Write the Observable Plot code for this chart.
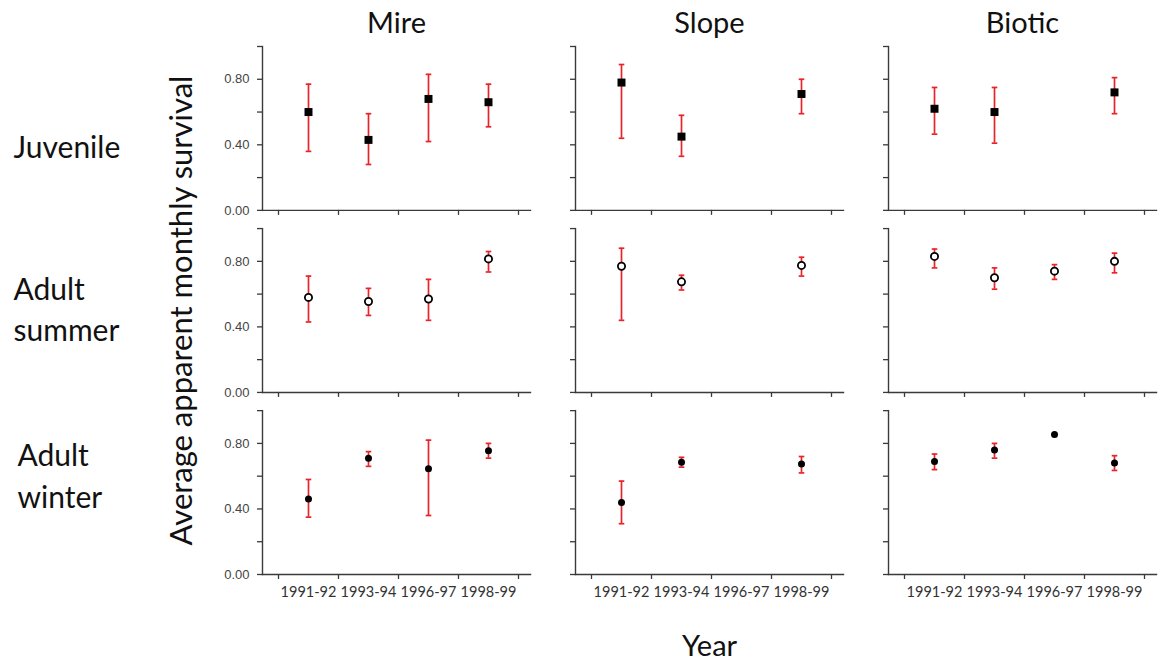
<!DOCTYPE html>
<html>
<head>
<meta charset="utf-8">
<script src="https://cdn.jsdelivr.net/npm/d3@7"></script>
<script src="https://cdn.jsdelivr.net/npm/@observablehq/plot@0.6"></script>
<style>
  body { margin: 0; background: #fff; }
  #chart svg { display: block; }
</style>
</head>
<body>
<div id="chart"></div>
<script>
// Study sites (columns), life stages (rows) and survey years (x axis)
const sites = ["Mire", "Slope", "Biotic"];
const stages = ["Juvenile", "Adult summer", "Adult winter"];
const stageLabels = ["Juvenile", "Adult\nsummer", "Adult\nwinter"];
const years = ["1991-92", "1993-94", "1996-97", "1998-99"];
const yTicks = [0, 0.2, 0.4, 0.6, 0.8, 1.0];
const yLabelTicks = [0, 0.4, 0.8];

// Average apparent monthly survival; rows = stages, columns = years (null = not estimated)
const mireEst  = [[0.60, 0.43, 0.68, 0.66], [0.58, 0.555, 0.57, 0.815], [0.46, 0.71, 0.645, 0.755]];
const mireLow  = [[0.36, 0.28, 0.42, 0.51], [0.43, 0.47, 0.44, 0.735], [0.35, 0.66, 0.36, 0.71]];
const mireHigh = [[0.77, 0.59, 0.83, 0.77], [0.71, 0.635, 0.69, 0.86], [0.58, 0.75, 0.82, 0.80]];

const slopeEst  = [[0.78, 0.45, null, 0.71], [0.77, 0.675, null, 0.775], [0.44, 0.685, null, 0.675]];
const slopeLow  = [[0.44, 0.33, null, 0.59], [0.44, 0.625, null, 0.71], [0.31, 0.655, null, 0.62]];
const slopeHigh = [[0.89, 0.58, null, 0.80], [0.88, 0.715, null, 0.825], [0.57, 0.715, null, 0.72]];

const bioticEst  = [[0.62, 0.60, null, 0.72], [0.83, 0.70, 0.74, 0.80], [0.69, 0.76, 0.855, 0.68]];
const bioticLow  = [[0.465, 0.41, null, 0.59], [0.76, 0.63, 0.69, 0.73], [0.64, 0.71, null, 0.635]];
const bioticHigh = [[0.75, 0.75, null, 0.81], [0.875, 0.76, 0.78, 0.85], [0.735, 0.80, null, 0.725]];

// Flatten into one row per estimate
const series = {
  Mire: [mireEst, mireLow, mireHigh],
  Slope: [slopeEst, slopeLow, slopeHigh],
  Biotic: [bioticEst, bioticLow, bioticHigh]
};
const rows = [];
sites.forEach(site => {
  const [est, low, high] = series[site];
  stages.forEach((stage, r) => {
    years.forEach((year, i) => {
      if (est[r][i] == null) return;
      rows.push({site, stage, year, xi: i, est: est[r][i], low: low[r][i], high: high[r][i]});
    });
  });
});
const bars = rows.filter(d => d.low != null && d.high != null);

const axisColor = "#3a3a3a";
const red = "#e8242b";
const labelFont = "Lato, 'Noto Sans', sans-serif";
const tickFont = "'Liberation Sans', Arial, sans-serif";

// Short horizontal stroke used for the error-bar caps
const capSymbol = {
  draw(context, size) {
    const w = Math.sqrt(size / Math.PI);
    context.moveTo(-w, 0);
    context.lineTo(w, 0);
  }
};

// Offsets of the row labels relative to the middle of each row
const rowLabelShift = {"Juvenile": 16, "Adult summer": -3, "Adult winter": -19};

const marks = [
  // axis lines
  Plot.frame({anchor: "left", stroke: axisColor, strokeWidth: 1.4}),
  Plot.frame({anchor: "bottom", stroke: axisColor, strokeWidth: 1.4}),
  // y ticks in every panel, labels on the left column only
  Plot.axisY({ticks: yTicks, tickFormat: () => "", tickSize: 5, facetAnchor: null, stroke: axisColor, strokeWidth: 1.3, label: null}),
  Plot.axisY({ticks: yLabelTicks, tickFormat: ".2f", tickSize: 0, tickPadding: 13, label: null,
    fontSize: 13, fontFamily: tickFont, fill: "#444"}),
  // x ticks at the year boundaries in every panel, year labels on the bottom row
  Plot.axisX({ticks: [-0.5, 0.5, 1.5, 2.5, 3.5], tickFormat: () => "", tickSize: 5, facetAnchor: null, stroke: axisColor, strokeWidth: 1.3, label: null}),
  Plot.axisX({ticks: [0, 1, 2, 3], tickFormat: i => years[i], tickSize: 0, tickPadding: 12, label: null,
    fontSize: 14.5, fontFamily: labelFont, fill: "#333"}),
  // error bars
  Plot.ruleX(bars, {x: "xi", y1: "low", y2: "high", fx: "site", fy: "stage", stroke: red, strokeWidth: 1.7}),
  Plot.dot(bars, {x: "xi", y: "low", fx: "site", fy: "stage", symbol: capSymbol, r: 2.8, stroke: red, strokeWidth: 1.7}),
  Plot.dot(bars, {x: "xi", y: "high", fx: "site", fy: "stage", symbol: capSymbol, r: 2.8, stroke: red, strokeWidth: 1.7}),
  // estimates
  Plot.dot(rows, {filter: d => d.stage === "Juvenile", x: "xi", y: "est", fx: "site", fy: "stage",
    symbol: "square", r: 4.5, fill: "#000"}),
  Plot.dot(rows, {filter: d => d.stage === "Adult summer", x: "xi", y: "est", fx: "site", fy: "stage",
    symbol: "circle", r: 3.6, fill: "#fff", stroke: "#000", strokeWidth: 1.8}),
  Plot.dot(rows, {filter: d => d.stage === "Adult winter", x: "xi", y: "est", fx: "site", fy: "stage",
    symbol: "circle", r: 3.5, fill: "#000"}),
  // column titles
  Plot.text(sites, {fx: d => d, fy: () => "Juvenile", text: d => d, frameAnchor: "top", dy: -34,
    fontSize: 29, fontFamily: labelFont, fill: "#111"}),
  // axis titles
  Plot.text(["Average apparent monthly survival"], {fx: () => "Mire", fy: () => "Adult summer", text: d => d,
    frameAnchor: "left", textAnchor: "middle", rotate: -90, dx: -80, fontSize: 31, fontFamily: labelFont, fill: "#111"}),
  Plot.text(["Year"], {fx: () => "Slope", fy: () => "Adult winter", text: d => d,
    frameAnchor: "bottom", dy: 81, fontSize: 29, fontFamily: labelFont, fill: "#111"})
];

// row labels
stages.forEach((stage, r) => {
  marks.push(Plot.text([stageLabels[r]], {fx: () => "Mire", fy: () => stage, text: d => d,
    frameAnchor: "left", textAnchor: "start", dx: stage === "Adult winter" ? -245 : -249,
    dy: rowLabelShift[stage], lineHeight: 1.38, fontSize: 30, fontFamily: labelFont, fill: "#111"}));
});

const chart = Plot.plot({
  width: 1158,
  height: 666,
  marginTop: 46,
  marginLeft: 262,
  marginRight: 2,
  marginBottom: 92,
  style: {fontFamily: labelFont, background: "#fff"},
  fx: {domain: sites, paddingInner: 0.1438, axis: null, round: false},
  fy: {domain: stages, paddingInner: 0.1, axis: null, round: false},
  x: {domain: [-0.5, 3.5], insetLeft: 16, insetRight: 12},
  y: {domain: [0, 1]},
  marks
});

document.getElementById("chart").appendChild(chart);
</script>
</body>
</html>
